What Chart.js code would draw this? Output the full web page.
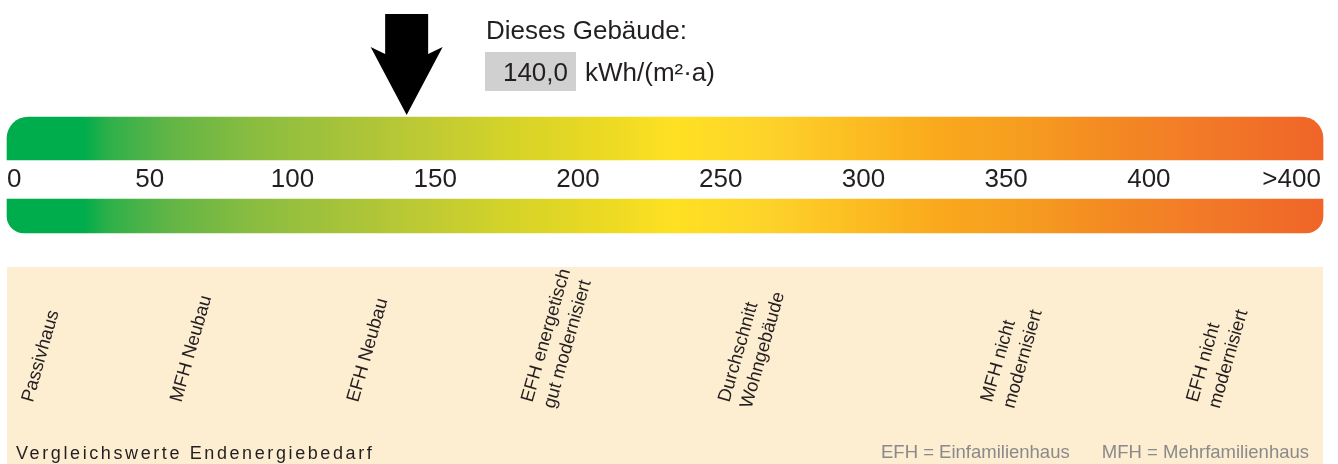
<!DOCTYPE html>
<html lang="de">
<head>
<meta charset="utf-8">
<title>Vergleichswerte Endenergiebedarf</title>
<script src="https://cdn.jsdelivr.net/npm/chart.js@4.4.1/dist/chart.umd.min.js"></script>
<style>
    html, body { margin: 0; padding: 0; background: #fff; }
    #wrap { position: relative; width: 1338px; height: 464px; }
</style>
</head>
<body>
<div id="wrap"><canvas id="scale-chart"></canvas></div>
<script>
// Skala Endenergiebedarf in kWh/(m²·a)
const scaleMin = 0;
const scaleMax = 461;
const tickValues = [0, 50, 100, 150, 200, 250, 300, 350, 400, 450];
const tickLabels = ['0', '50', '100', '150', '200', '250', '300', '350', '400', '>400'];

// Wert dieses Gebäudes
const buildingValue = 140.0;

// Vergleichswerte (Lage auf der Skala)
const refNames = [
    ['Passivhaus'],
    ['MFH Neubau'],
    ['EFH Neubau'],
    ['EFH energetisch', 'gut modernisiert'],
    ['Durchschnitt', 'Wohngebäude'],
    ['MFH nicht', 'modernisiert'],
    ['EFH nicht', 'modernisiert']
];
const refValues = [9, 61, 123, 184, 253, 345, 417];

// Farbverlauf (Stops im Wertebereich der Skala)
const gradStops = [0, 27, 36, 57, 87, 117, 147, 177, 207, 234, 267, 296, 326, 356, 386, 416, 461];
const gradColors = ['#00ad4c', '#00ad4c', '#2fb04a', '#62b546', '#8abd40', '#a6c33a', '#bfca33', '#d5d328',
    '#ead923', '#ffe123', '#fdd22a', '#fcbe22', '#faa91d', '#f69d20', '#f48a22', '#f27b27', '#ef6528'];

const FONT = '"Liberation Sans", Arial, Helvetica, sans-serif';
const TEXT = '#231f20';

function scaleGradient(context) {
    const chart = context.chart;
    if (!chart.chartArea) return gradColors[0];
    const x = chart.scales.x;
    const x0 = x.getPixelForValue(scaleMin);
    const x1 = x.getPixelForValue(scaleMax);
    const g = chart.ctx.createLinearGradient(x0, 0, x1, 0);
    gradStops.forEach((v, i) => g.addColorStop((v - scaleMin) / (scaleMax - scaleMin), gradColors[i]));
    return g;
}

// Beschriftung, Pfeil und Vergleichsfeld
const decorPlugin = {
    id: 'decor',
    beforeDatasetsDraw(chart) {
        const c = chart.ctx;
        const x = chart.scales.x;
        const left = x.getPixelForValue(scaleMin);
        const right = x.getPixelForValue(scaleMax);
        c.save();
        c.fillStyle = '#fdeed1';
        c.fillRect(left, 267, right - left, chart.height - 267);
        c.restore();
    },
    afterDatasetsDraw(chart) {
        const c = chart.ctx;
        const x = chart.scales.x;
        c.save();

        // Pfeil auf den Wert des Gebäudes
        const ax = x.getPixelForValue(buildingValue);
        c.beginPath();
        c.moveTo(ax - 21.5, 14);
        c.lineTo(ax - 21.5, 54);
        c.lineTo(ax - 36, 47);
        c.lineTo(ax, 115);
        c.lineTo(ax + 36, 47);
        c.lineTo(ax + 21.5, 54);
        c.lineTo(ax + 21.5, 14);
        c.closePath();
        c.fillStyle = '#000';
        c.fill();

        // Kopf
        c.font = '26px ' + FONT;
        c.fillStyle = TEXT;
        c.textAlign = 'left';
        c.textBaseline = 'alphabetic';
        c.fillText('Dieses Gebäude:', 486, 39);
        c.fillStyle = '#d0d0d0';
        c.fillRect(485, 52, 91, 39);
        c.fillStyle = TEXT;
        c.textAlign = 'right';
        c.fillText(buildingValue.toFixed(1).replace('.', ','), 568, 81);
        c.textAlign = 'left';
        c.fillText('kWh/(m²·a)', 585, 81);

        // Skalenbeschriftung
        tickValues.forEach((v, i) => {
            const px = x.getPixelForValue(v);
            c.textAlign = i === 0 ? 'left' : 'center';
            c.fillText(tickLabels[i], px, 187);
        });

        // Vergleichswerte, schräg gestellt
        c.font = '18.5px ' + FONT;
        refNames.forEach((lines, i) => {
            const px = x.getPixelForValue(refValues[i]);
            c.save();
            c.translate(px, 403);
            c.rotate(-74 * Math.PI / 180);
            c.textAlign = 'left';
            lines.forEach((t, j) => c.fillText(t, 0, j * 23));
            c.restore();
        });

        // Fußzeile
        c.font = '18px ' + FONT;
        c.textAlign = 'left';
        c.letterSpacing = '2.6px';
        c.fillText('Vergleichswerte Endenergiebedarf', 16, 459);
        c.letterSpacing = '0px';
        c.font = '18.5px ' + FONT;
        c.fillStyle = '#8a8a8a';
        c.fillText('EFH = Einfamilienhaus', 881, 458);
        c.textAlign = 'right';
        c.fillText('MFH = Mehrfamilienhaus', 1309, 458);
        c.restore();
    }
};

const ctx = document.getElementById('scale-chart').getContext('2d');
const chart = new Chart(ctx, {
    type: 'bar',
    data: {
        labels: ['oben', 'unten'],
        datasets: [{
            label: 'Skala oben',
            data: [[scaleMin, scaleMax], null],
            backgroundColor: scaleGradient,
            barThickness: 43,
            borderRadius: { topLeft: 22, topRight: 22 },
            borderSkipped: false,
            grouped: false,
            clip: false
        }, {
            label: 'Skala unten',
            data: [null, [scaleMin, scaleMax]],
            backgroundColor: scaleGradient,
            barThickness: 34,
            borderRadius: { bottomLeft: 17, bottomRight: 17 },
            borderSkipped: false,
            grouped: false,
            clip: false
        }]
    },
    options: {
        indexAxis: 'y',
        responsive: true,
        maintainAspectRatio: false,
        animation: false,
        layout: { padding: { left: 7, right: 15, top: 138.5, bottom: 248 } },
        scales: {
            x: { type: 'linear', min: scaleMin, max: scaleMax, display: false },
            y: { type: 'category', offset: false, display: false }
        },
        plugins: {
            legend: { display: false },
            tooltip: { enabled: false }
        }
    },
    plugins: [decorPlugin]
});
</script>
</body>
</html>
